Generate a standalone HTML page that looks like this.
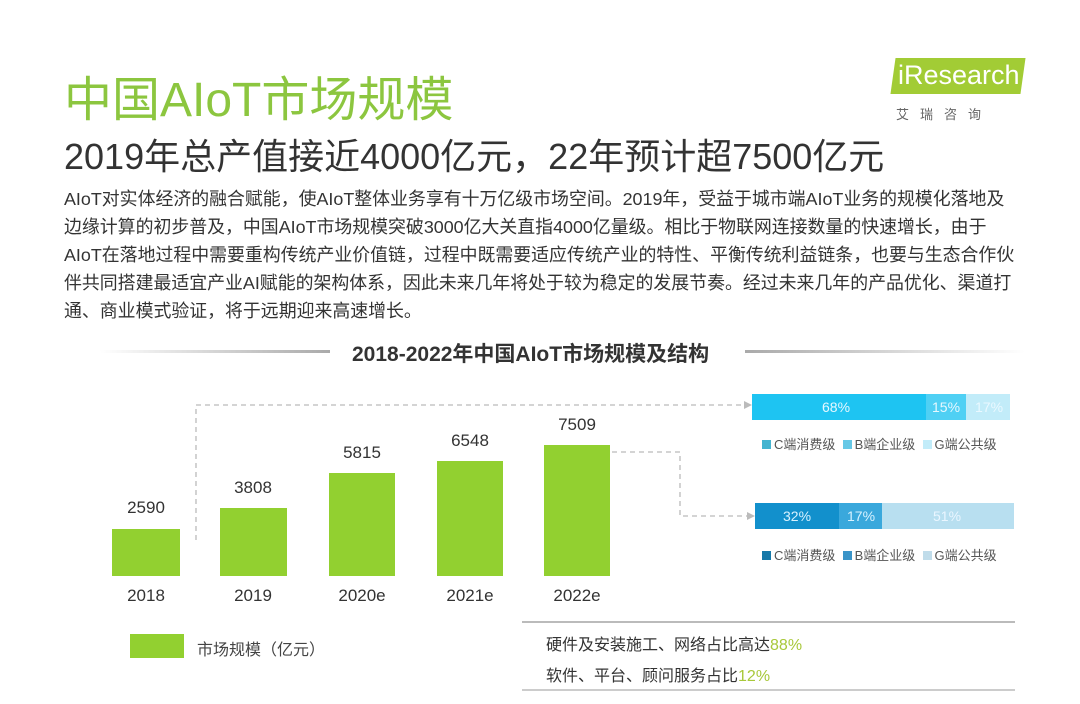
<!DOCTYPE html>
<html><head><meta charset="utf-8"><style>
body{margin:0;width:1080px;height:704px;background:#fff;position:relative;overflow:hidden;font-family:"Liberation Sans","Noto Sans CJK SC",sans-serif;color:#333}
.a{position:absolute;white-space:nowrap}
.bar{position:absolute;background:#92d030}
.v{position:absolute;font-size:17px;color:#333;width:80px;text-align:center}
.lg{font-size:13px;color:#555}
.sq{display:inline-block;width:9px;height:9px;margin-right:3px}
</style></head><body>
<div class="a" style="left:64px;top:60px;font-size:48px;color:#8cc63f">中国AIoT市场规模</div>
<div class="a" style="left:64px;top:128px;font-size:36px;color:#333">2019年总产值接近4000亿元，22年预计超7500亿元</div>
<div class="a" style="left:893px;top:58px;width:130px;height:36px;background:#a2cc35;transform:skewX(-8deg)"></div>
<div class="a" style="left:898px;top:60px;font-size:27px;color:#fff">iResearch</div>
<div class="a" style="left:896px;top:104px;font-size:13px;color:#666;letter-spacing:11px">艾瑞咨询</div>
<div class="a" style="left:64px;top:185px;font-size:17.9px;line-height:28px;color:#333">AIoT对实体经济的融合赋能，使AIoT整体业务享有十万亿级市场空间。2019年，受益于城市端AIoT业务的规模化落地及<br>边缘计算的初步普及，中国AIoT市场规模突破3000亿大关直指4000亿量级。相比于物联网连接数量的快速增长，由于<br>AIoT在落地过程中需要重构传统产业价值链，过程中既需要适应传统产业的特性、平衡传统利益链条，也要与生态合作伙<br>伴共同搭建最适宜产业AI赋能的架构体系，因此未来几年将处于较为稳定的发展节奏。经过未来几年的产品优化、渠道打<br>通、商业模式验证，将于远期迎来高速增长。</div>
<div class="a" style="left:100px;top:350px;width:230px;height:3px;background:linear-gradient(90deg,#fff,#aaa)"></div>
<div class="a" style="left:745px;top:350px;width:280px;height:3px;background:linear-gradient(90deg,#aaa,#fff)"></div>
<div class="a" style="left:352px;top:338px;font-size:21px;font-weight:bold;color:#333">2018-2022年中国AIoT市场规模及结构</div>
<svg class="a" style="left:0;top:0" width="1080" height="704">
<path d="M196 540 V405 H745 M612 452 H680 V516 H748" fill="none" stroke="#bbb" stroke-dasharray="5,4" stroke-width="1.3"/>
<path d="M744 401 l8 4 -8 4z M747 512 l8 4 -8 4z" fill="#bbb"/>
</svg>
<div class="bar" style="left:112px;top:529px;width:68px;height:47px"></div>
<div class="bar" style="left:220px;top:508px;width:67px;height:68px"></div>
<div class="bar" style="left:329px;top:473px;width:66px;height:103px"></div>
<div class="bar" style="left:437px;top:461px;width:66px;height:115px"></div>
<div class="bar" style="left:544px;top:445px;width:66px;height:131px"></div>
<div class="v" style="left:106px;top:498px">2590</div>
<div class="v" style="left:213px;top:478px">3808</div>
<div class="v" style="left:322px;top:443px">5815</div>
<div class="v" style="left:430px;top:431px">6548</div>
<div class="v" style="left:537px;top:415px">7509</div>
<div class="v" style="left:106px;top:586px">2018</div>
<div class="v" style="left:213px;top:586px">2019</div>
<div class="v" style="left:322px;top:586px">2020e</div>
<div class="v" style="left:430px;top:586px">2021e</div>
<div class="v" style="left:537px;top:586px">2022e</div>
<div class="bar" style="left:130px;top:634px;width:54px;height:24px"></div>
<div class="a" style="left:197px;top:636px;font-size:16px;color:#444">市场规模（亿元）</div>
<div class="a" style="left:752px;top:394px;width:174px;height:26px;background:#1ec4f2"></div>
<div class="a" style="left:926px;top:394px;width:40px;height:26px;background:#4fd0f4"></div>
<div class="a" style="left:966px;top:394px;width:44px;height:26px;background:#c2ecf9"></div>
<div class="a" style="left:822px;top:399px;font-size:14px;color:#e6f8ff">68%</div>
<div class="a" style="left:932px;top:399px;font-size:14px;color:#e6f8ff">15%</div>
<div class="a" style="left:975px;top:399px;font-size:14px;color:#eaf8ff">17%</div>
<div class="a lg" style="left:762px;top:434px"><span class="sq" style="background:#44b4d0"></span>C端消费级 &nbsp;<span class="sq" style="background:#66c8e6"></span>B端企业级 &nbsp;<span class="sq" style="background:#c2ecf9"></span>G端公共级</div>
<div class="a" style="left:755px;top:503px;width:84px;height:26px;background:#1290cc"></div>
<div class="a" style="left:839px;top:503px;width:43px;height:26px;background:#3aa8dc"></div>
<div class="a" style="left:882px;top:503px;width:132px;height:26px;background:#b8dff0"></div>
<div class="a" style="left:783px;top:508px;font-size:14px;color:#d8f2ff">32%</div>
<div class="a" style="left:847px;top:508px;font-size:14px;color:#d8f2ff">17%</div>
<div class="a" style="left:933px;top:508px;font-size:14px;color:#eaf6ff">51%</div>
<div class="a lg" style="left:762px;top:545px"><span class="sq" style="background:#1578a8"></span>C端消费级 &nbsp;<span class="sq" style="background:#3a94c8"></span>B端企业级 &nbsp;<span class="sq" style="background:#c0dcea"></span>G端公共级</div>
<div class="a" style="left:522px;top:621px;width:493px;height:2px;background:#bbb"></div>
<div class="a" style="left:522px;top:689px;width:493px;height:2px;background:#ccc"></div>
<div class="a" style="left:546px;top:631px;font-size:16px;color:#333">硬件及安装施工、网络占比高达<b style="color:#a8c83a;font-weight:normal">88%</b></div>
<div class="a" style="left:546px;top:662px;font-size:16px;color:#333">软件、平台、顾问服务占比<b style="color:#a8c83a;font-weight:normal">12%</b></div>
</body></html>
